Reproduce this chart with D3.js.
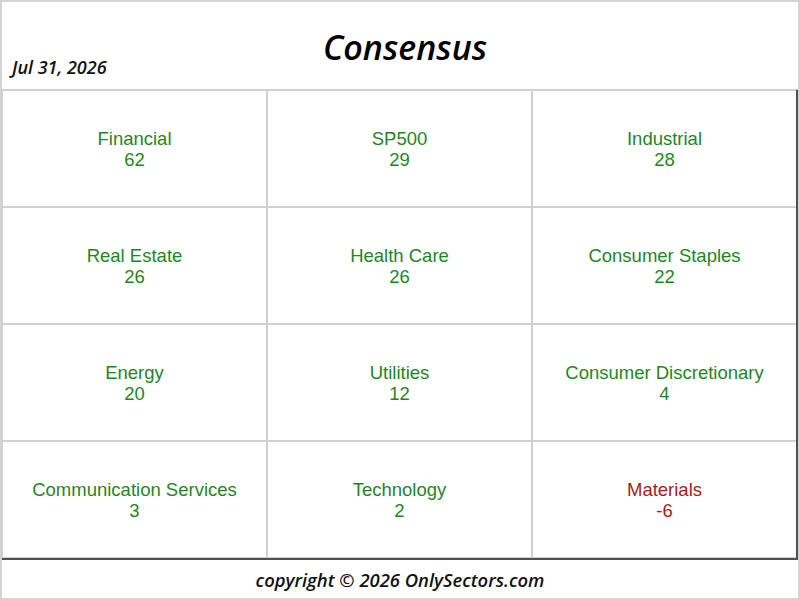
<!DOCTYPE html>
<html>
<head>
<meta charset="utf-8">
<script src="https://cdn.jsdelivr.net/npm/d3@7"></script>
<style>
  body { margin: 0; background: #fff; }
</style>
</head>
<body>
<div id="chart-area"></div>
<script>
// sector consensus readings, in table order (3 per row)
var sectors = ["Financial", "SP500", "Industrial",
    "Real Estate", "Health Care", "Consumer Staples",
    "Energy", "Utilities", "Consumer Discretionary",
    "Communication Services", "Technology", "Materials"]
var values = [62, 29, 28, 26, 26, 22, 20, 12, 4, 3, 2, -6]
var title = "Consensus"
var dateLabel = "Jul 31, 2026"
var footer = "copyright \u00a9 2026 OnlySectors.com"

var width = 800, height = 600
var nCols = 3, nRows = Math.ceil(sectors.length / nCols)
var grid = { left: 2, right: 797, top: 90, bottom: 558 }

var svg = d3.select("#chart-area")
    .append("svg")
    .attr("width", width)
    .attr("height", height)

var x = d3.scaleBand()
    .domain(d3.range(nCols))
    .range([grid.left, grid.right])
var y = d3.scaleBand()
    .domain(d3.range(nRows))
    .range([grid.top, grid.bottom])

var color = d => d < 0 ? "#a51c1c" : "#1f861f"

// outer frame
svg.append("rect")
    .attr("x", 1).attr("y", 1)
    .attr("width", width - 2).attr("height", height - 2)
    .attr("fill", "none")
    .attr("stroke", "#d4d4d4")
    .attr("stroke-width", 2)

// header
svg.append("text")
    .attr("x", 405)
    .attr("y", 60)
    .attr("text-anchor", "middle")
    .attr("font-family", "Open Sans")
    .attr("font-style", "italic")
    .attr("font-weight", 600)
    .attr("font-size", "34px")
    .attr("fill", "#000")
    .text(title)
svg.append("text")
    .attr("x", 12)
    .attr("y", 74)
    .attr("font-family", "Open Sans")
    .attr("font-style", "italic")
    .attr("font-weight", 600)
    .attr("font-size", "18px")
    .attr("fill", "#111")
    .text(dateLabel)

var cells = svg.selectAll("g.cell")
    .data(sectors.map((s, i) => ({ name: s, value: values[i], i: i })))
    .enter()
    .append("g")
    .attr("class", "cell")
    .attr("transform", d => "translate(" + x(d.i % nCols) + "," + y(Math.floor(d.i / nCols)) + ")")

cells.append("rect")
    .attr("width", x.bandwidth())
    .attr("height", y.bandwidth())
    .attr("fill", "#fff")
    .attr("stroke", "#d0d0d0")
    .attr("stroke-width", 2)

cells.append("text")
    .attr("x", x.bandwidth() / 2)
    .attr("y", y.bandwidth() / 2 - 3.5)
    .attr("text-anchor", "middle")
    .attr("font-family", "Liberation Sans, Arial, sans-serif")
    .attr("font-size", "18.5px")
    .attr("fill", d => color(d.value))
    .text(d => d.name)

cells.append("text")
    .attr("x", x.bandwidth() / 2)
    .attr("y", y.bandwidth() / 2 + 17)
    .attr("text-anchor", "middle")
    .attr("font-family", "Liberation Sans, Arial, sans-serif")
    .attr("font-size", "18.5px")
    .attr("fill", d => color(d.value))
    .text(d => d.value)

// dark edge on right and bottom of the grid
svg.append("path")
    .attr("d", "M" + grid.right + "," + grid.top + "V" + (grid.bottom + 1) + "H" + grid.left)
    .attr("fill", "none")
    .attr("stroke", "#505050")
    .attr("stroke-width", 2)

// footer
svg.append("text")
    .attr("x", 400)
    .attr("y", 587)
    .attr("text-anchor", "middle")
    .attr("font-family", "Open Sans")
    .attr("font-style", "italic")
    .attr("font-weight", 600)
    .attr("font-size", "18.4px")
    .attr("fill", "#111")
    .text(footer)
</script>
</body>
</html>
